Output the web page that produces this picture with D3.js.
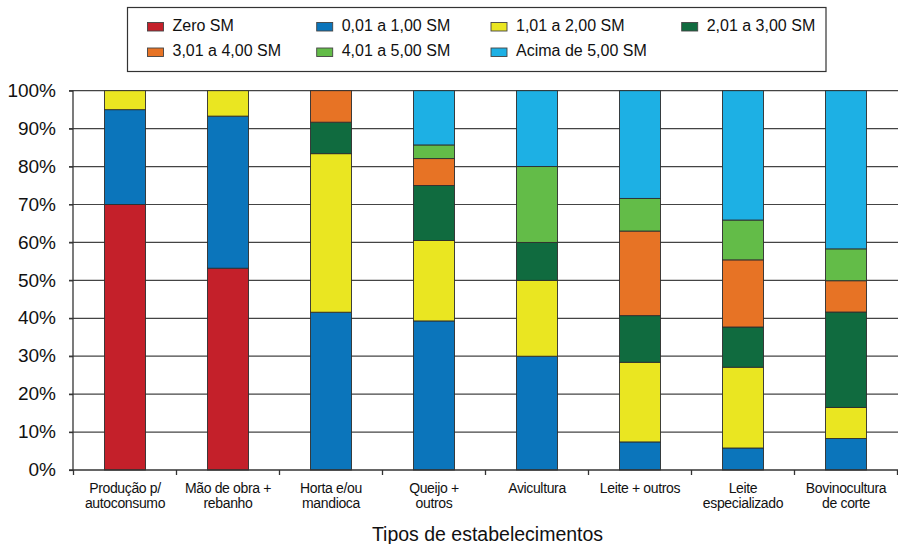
<!DOCTYPE html>
<html>
<head>
<meta charset="utf-8">
<script src="https://cdn.jsdelivr.net/npm/d3@7"></script>
<style>
  html, body { margin: 0; padding: 0; background: #fff; }
  svg { display: block; font-family: "Liberation Sans", Arial, sans-serif; }
</style>
</head>
<body>
<svg id="chart" width="898" height="544"></svg>
<script>
// ---- data ----
const categories = [
  "Produção p/\nautoconsumo",
  "Mão de obra +\nrebanho",
  "Horta e/ou\nmandioca",
  "Queijo +\noutros",
  "Avicultura",
  "Leite + outros",
  "Leite\nespecializado",
  "Bovinocultura\nde corte"
];
const seriesNames = ["Zero SM", "0,01 a 1,00 SM", "1,01 a 2,00 SM", "2,01 a 3,00 SM",
                     "3,01 a 4,00 SM", "4,01 a 5,00 SM", "Acima de 5,00 SM"];
const zeroSM     = [70, 53.2, 0, 0, 0, 0, 0, 0];
const sm0to1     = [25, 40.1, 41.6, 39.3, 30, 7.4, 5.8, 8.3];
const sm1to2     = [5, 6.7, 41.8, 21.2, 20, 21.0, 21.3, 8.2];
const sm2to3     = [0, 0, 8.3, 14.5, 10, 12.3, 10.6, 25.15];
const sm3to4     = [0, 0, 8.3, 7.1, 0, 22.3, 17.7, 8.25];
const sm4to5     = [0, 0, 0, 3.6, 20, 8.6, 10.5, 8.4];
const smAbove5   = [0, 0, 0, 14.3, 20, 28.4, 34.1, 41.7];
const yTicks     = [0, 10, 20, 30, 40, 50, 60, 70, 80, 90, 100];
const xTitle     = "Tipos de estabelecimentos";
const colors     = ["#C4202A", "#0B75BB", "#EAE621", "#106B3F", "#E77325", "#63BC48", "#1DB0E4"];

// ---- build table ----
const allSeries = [zeroSM, sm0to1, sm1to2, sm2to3, sm3to4, sm4to5, smAbove5];
const table = categories.map((c, i) => {
  const row = { cat: c };
  seriesNames.forEach((s, k) => row[s] = allSeries[k][i]);
  return row;
});
const stacked = d3.stack().keys(seriesNames)(table);

// ---- layout ----
const svg = d3.select("#chart");
const x = d3.scaleBand().domain(categories).range([73.5, 897.5]).paddingInner(0.6).paddingOuter(0.3);
const xb = d3.scaleBand().domain(categories).range([73.5, 897.5]);
const y = d3.scaleLinear().domain([0, 100]).range([470, 90.7]);

// gridlines
svg.append("g").selectAll("line").data(yTicks.filter(t => t > 0)).join("line")
  .attr("x1", 69).attr("x2", 898)
  .attr("y1", d => y(d)).attr("y2", d => y(d))
  .attr("stroke", "#444").attr("stroke-width", 1.2);

// bars
const gBars = svg.append("g");
stacked.forEach((layer, k) => {
  gBars.append("g").selectAll("rect")
    .data(layer.filter(d => d[1] - d[0] > 0))
    .join("rect")
    .attr("x", d => xb(d.data.cat) + (xb.bandwidth() - 41) / 2)
    .attr("width", 41)
    .attr("y", d => y(d[1]))
    .attr("height", d => y(d[0]) - y(d[1]))
    .attr("fill", colors[k])
    .attr("stroke", "#2e2e2e").attr("stroke-width", 0.9);
});

// y axis
const yAxis = d3.axisLeft(y).tickValues(yTicks).tickSize(4).tickFormat(d => d + "%");
const gy = svg.append("g").attr("transform", "translate(73,0)").call(yAxis);
gy.select(".domain").attr("stroke", "#333").attr("stroke-width", 1.3).attr("d", "M0,90.7V470");
gy.selectAll(".tick line").attr("stroke", "#333").attr("stroke-width", 1.2);
gy.selectAll(".tick text").attr("x", -17).attr("font-size", 19)
  .attr("font-family", "Liberation Sans, Arial, sans-serif").attr("fill", "#111").attr("dy", "0.3em");

// x axis
const gx = svg.append("g").attr("transform", "translate(0,470)");
gx.append("line").attr("x1", 69).attr("x2", 898).attr("y1", 0).attr("y2", 0)
  .attr("stroke", "#333").attr("stroke-width", 1.3);
const bounds = categories.map(c => xb(c)).concat([xb(categories[categories.length - 1]) + xb.bandwidth()]);
gx.selectAll("line.tk").data(bounds).join("line").attr("class", "tk")
  .attr("x1", d => d).attr("x2", d => d).attr("y1", 0).attr("y2", 5)
  .attr("stroke", "#333").attr("stroke-width", 1.3);
categories.forEach(c => {
  const lines = c.split("\n");
  const t = gx.append("text")
    .attr("x", xb(c) + xb.bandwidth() / 2)
    .attr("y", 23)
    .attr("text-anchor", "middle")
    .attr("font-size", 14)
    .attr("letter-spacing", -0.35)
    .attr("fill", "#111");
  lines.forEach((l, i) => t.append("tspan").attr("x", xb(c) + xb.bandwidth() / 2).attr("dy", i === 0 ? 0 : 14.7).text(l));
});

// x title
svg.append("text").attr("x", 487.5).attr("y", 541).attr("text-anchor", "middle")
  .attr("font-size", 19.5).attr("fill", "#111").text(xTitle);

// legend
const lg = svg.append("g");
lg.append("rect").attr("x", 127.5).attr("y", 7.5).attr("width", 698.5).attr("height", 64)
  .attr("fill", "#fff").attr("stroke", "#333").attr("stroke-width", 1.2);
const colX = [147.5, 316.7, 491, 681.7];
seriesNames.forEach((s, k) => {
  const col = k < 4 ? k : k - 4;
  const row = k < 4 ? 0 : 1;
  const sx = colX[col], sy = row === 0 ? 22.5 : 48;
  lg.append("rect").attr("x", sx).attr("y", sy).attr("width", 16).attr("height", 8.5)
    .attr("fill", colors[k]).attr("stroke", "#444").attr("stroke-width", 0.9);
  lg.append("text").attr("x", sx + 25).attr("y", sy + 8.3).attr("font-size", 16)
    .attr("fill", "#111").text(s);
});
</script>
</body>
</html>
